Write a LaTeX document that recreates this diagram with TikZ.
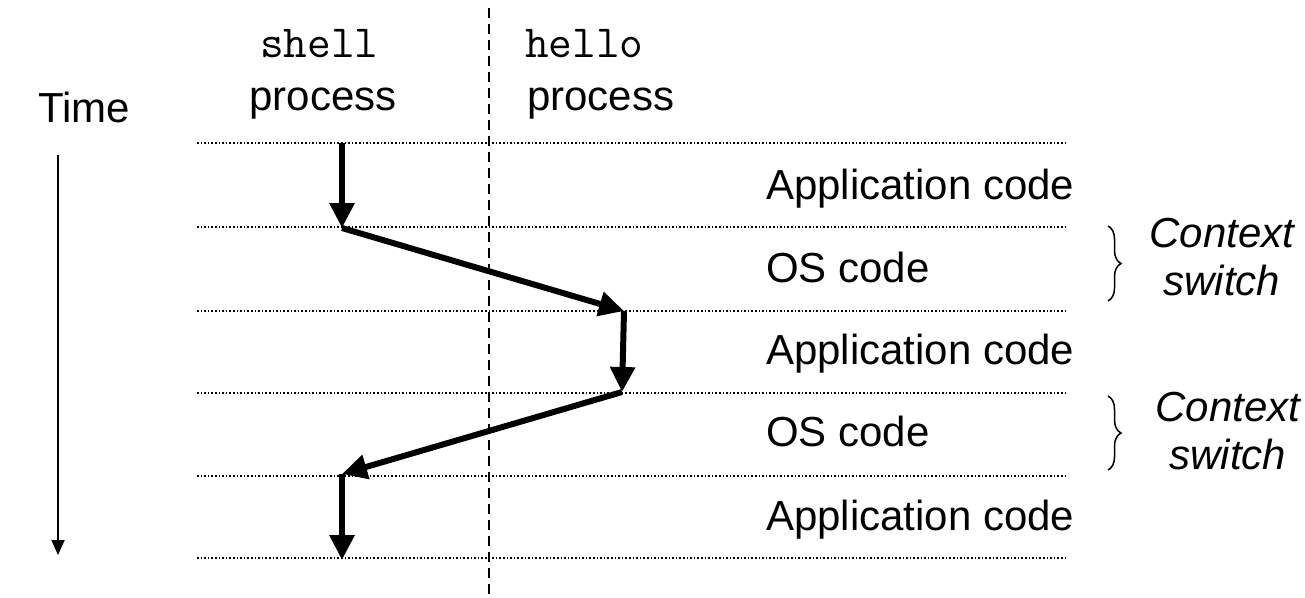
\documentclass[tikz,border=0pt]{standalone}
\usepackage{fontspec}
\setmainfont{Liberation Sans}
\setmonofont{Latin Modern Mono}
\usetikzlibrary{arrows.meta,decorations.pathreplacing}
\begin{document}
\begin{tikzpicture}[x=1pt,y=-1pt,
  lbl/.style={inner sep=0pt,font=\fontsize{42}{48}\selectfont},
  mono/.style={inner sep=0pt,font=\fontsize{46}{50}\selectfont\ttfamily},
  ital/.style={inner sep=0pt,font=\fontsize{42}{48}\selectfont\itshape,align=center},
  sep/.style={dotted,line width=1.6pt},
  flow/.style={line width=6pt,-{Triangle[length=25pt,width=24pt]}},
  timearr/.style={line width=1.8pt,-{Triangle[length=15pt,width=13pt]}},
  brc/.style={decorate,decoration={brace,amplitude=13pt},line width=1.5pt}]
\useasboundingbox (0,0) rectangle (1305,597);
% separators
\foreach \y/\n in {143/l0,227/l1,311/l2,393/l3,476/l4,558/l5}{
  \coordinate (\n a) at (197,\y);
  \coordinate (\n b) at (1066,\y);
  \draw[sep] (\n a) -- (\n b);
}
% process divider
\coordinate (dtop) at (489,8);
\coordinate (dbot) at (489,597);
\draw[line width=2.6pt,dash pattern=on 10pt off 6pt] (dtop) -- (dbot);
% headers
\node[mono,anchor=base west] (shell) at (260,57) {shell};
\node[lbl,anchor=base] (shellp) at (323,110) {process};
\node[mono,anchor=base west] (hello) at (525,57) {hello};
\node[lbl,anchor=base west] (hellop) at (527,110) {process};
\node[lbl,anchor=base west] (time) at (38,122) {Time};
% time arrow
\coordinate (t0) at (58,155);
\coordinate (t1) at (58,555);
\draw[timearr] (t0) -- (t1);
% region labels
\node[lbl,anchor=base west] (app1) at (766,199) {Application code};
\node[lbl,anchor=base west] (os1) at (766,282) {OS code};
\node[lbl,anchor=base west] (app2) at (766,364) {Application code};
\node[lbl,anchor=base west] (os2) at (766,446) {OS code};
\node[lbl,anchor=base west] (app3) at (766,530) {Application code};
% context switch braces
\coordinate (b1t) at (1108,226);
\coordinate (b1b) at (1108,301);
\draw[brc] (b1t) -- (b1b);
\node[ital] (cs1) at (1222,257) {Context\\switch};
\coordinate (b2t) at (1108,396);
\coordinate (b2b) at (1108,470);
\draw[brc] (b2t) -- (b2b);
\node[ital] (cs2) at (1228,431) {Context\\switch};
% execution path
\coordinate (p0) at (342,143);
\coordinate (p1) at (342,228);
\coordinate (p2) at (624,311);
\coordinate (p3) at (622,392);
\coordinate (p4) at (342,474);
\coordinate (p5) at (342,560);
\draw[flow] (p0) -- (p1);
\draw[flow] (p1) -- (p2);
\draw[flow] (p2) -- (p3);
\draw[flow] (p3) -- (p4);
\draw[flow] (p4) -- (p5);
\end{tikzpicture}
\end{document}
